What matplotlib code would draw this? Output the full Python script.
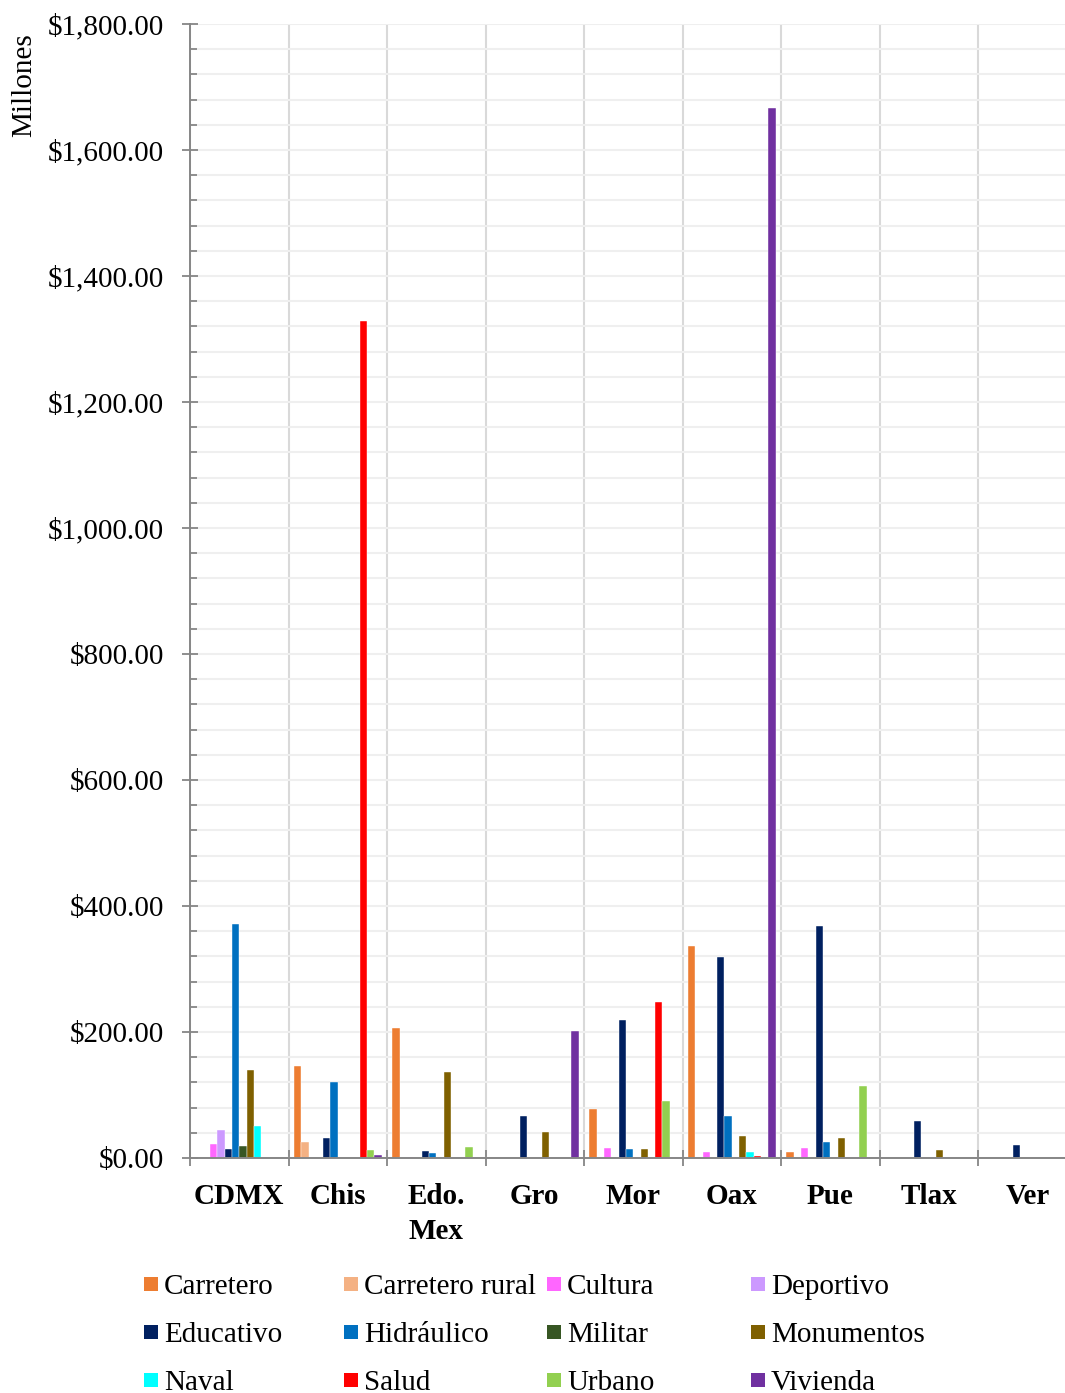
import matplotlib
matplotlib.use("Agg")
import matplotlib.pyplot as plt
from matplotlib.patches import Rectangle
from matplotlib.ticker import MultipleLocator, FuncFormatter
import numpy as np

categories = ['CDMX', 'Chis', 'Edo.\nMex', 'Gro', 'Mor', 'Oax', 'Pue', 'Tlax', 'Ver']
series_names = ['Carretero', 'Carretero rural', 'Cultura', 'Deportivo',
                'Educativo', 'Hidráulico', 'Militar', 'Monumentos',
                'Naval', 'Salud', 'Urbano', 'Vivienda']
carretero = [0, 146.5, 207, 0, 78, 336, 9.5, 0, 0]
carretero_rural = [0, 25, 0, 0, 0, 0, 0, 0, 0]
cultura = [22, 0, 1.5, 0, 16, 9.5, 16, 0, 0]
deportivo = [45, 0, 0, 0, 1.5, 0, 0, 0, 0]
educativo = [14, 32, 11, 67, 219, 318.5, 369, 58, 20.5]
hidraulico = [371, 120, 8, 0, 15, 66, 25, 0, 0]
militar = [19, 0, 0, 0, 0, 0, 0, 0, 0]
monumentos = [139, 0, 136, 41, 15, 35, 32, 13, 0]
naval = [51, 0, 0, 0, 0, 10, 0, 0, 0]
salud = [0, 1328, 0, 0, 247, 3, 0, 0, 0]
urbano = [0, 13, 18, 0, 91, 0, 115, 0, 0]
vivienda = [0, 5, 0, 201, 0, 1667, 0, 0, 0]
series_values = [carretero, carretero_rural, cultura, deportivo, educativo,
                 hidraulico, militar, monumentos, naval, salud, urbano, vivienda]
colors = ['#ED7D31', '#F4B183', '#FF66FF', '#CC99FF', '#002060', '#0070C0',
          '#375623', '#7F6000', '#00FFFF', '#FF0000', '#92D050', '#7030A0']

plt.rcParams['font.family'] = ['Liberation Serif', 'DejaVu Serif']
FS = 21

W, H = 1065, 1393
fig = plt.figure(figsize=(W / 100, H / 100), dpi=100)
ax_left, ax_right, ax_top, ax_bottom = 190, 1076.5, 24, 1158
ax = fig.add_axes([ax_left / W, (H - ax_bottom) / H,
                   (ax_right - ax_left) / W, (ax_bottom - ax_top) / H])

n = len(series_names)
group = 0.889
bw = group / n
x = np.arange(len(categories)) + 0.5
for j, (vals, c) in enumerate(zip(series_values, colors)):
    ax.bar(x - group / 2 + bw * (j + 0.5), vals, width=bw, color=c,
           edgecolor='white', linewidth=0.3, zorder=3)

ax.set_xlim(0, len(categories))
ax.set_ylim(0, 1800)

# y axis
ax.yaxis.set_major_locator(MultipleLocator(200))
ax.yaxis.set_minor_locator(MultipleLocator(40))
ax.yaxis.set_major_formatter(FuncFormatter(lambda v, p: f'${v:,.2f}'))
ax.tick_params(axis='y', which='major', direction='inout', length=11,
               width=1.3, color='#868686', labelsize=FS, pad=13)
ax.tick_params(axis='y', which='minor', direction='in', length=5,
               width=1.3, color='#868686')
ax.grid(axis='y', which='both', color='#EFEFEF', linewidth=1.5, zorder=0)

# x axis
ax.set_xticks(np.arange(0, len(categories) + 1))
ax.set_xticklabels([])
ax.set_xticks(x, minor=True)
ax.set_xticklabels(categories, minor=True, fontsize=FS, fontweight='bold',
                   linespacing=1.4)
ax.tick_params(axis='x', which='major', direction='inout', length=12,
               width=1.3, color='#868686')
ax.tick_params(axis='x', which='minor', length=0, pad=18)
ax.grid(axis='x', which='major', color='#D9D9D9', linewidth=1.5, zorder=0)
ax.set_axisbelow(True)

for s in ['top', 'right']:
    ax.spines[s].set_visible(False)
for s in ['left', 'bottom']:
    ax.spines[s].set_color('#868686')
    ax.spines[s].set_linewidth(1.4)
    ax.spines[s].set_zorder(4)

fig.text(24 / W, 1 - 85 / H, 'Millones', rotation=90, ha='center',
         va='center', fontsize=FS)

# legend (4 columns x 3 rows, row-major)
col_x = [144, 344, 547, 751]
row_y = [1284, 1332, 1380]
msz = 14
for k, (name, c) in enumerate(zip(series_names, colors)):
    r, cc = divmod(k, 4)
    mx, my = col_x[cc], row_y[r]
    fig.add_artist(Rectangle((mx / W, 1 - (my + msz / 2) / H), msz / W,
                             msz / H, transform=fig.transFigure,
                             facecolor=c, edgecolor='none'))
    fig.text((mx + msz + 6) / W, 1 - (my + 9.5) / H, name, ha='left',
             va='baseline', fontsize=FS)

fig.savefig('out.png', dpi=100)
